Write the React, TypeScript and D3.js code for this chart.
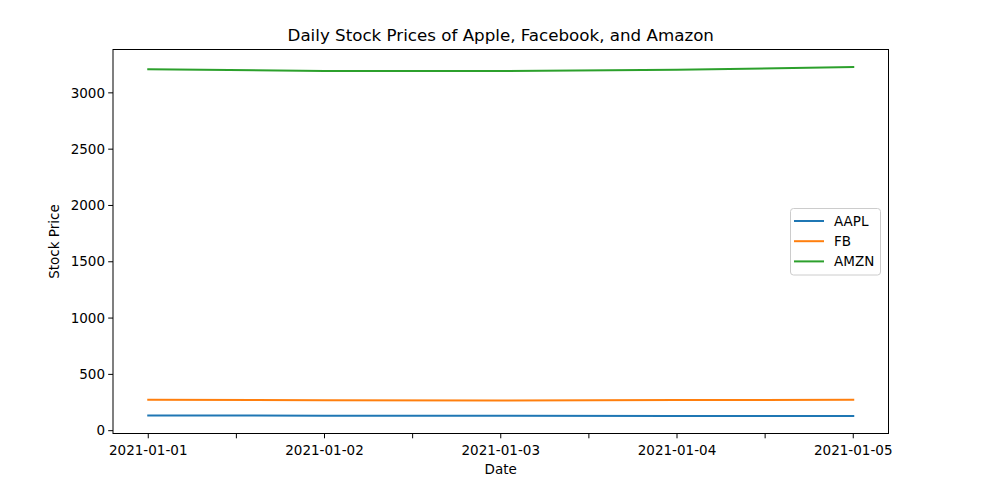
import React from "react";
import * as d3 from "d3";

const dates = ["2021-01-01", "2021-01-02", "2021-01-03", "2021-01-04", "2021-01-05"];
const aapl = [135, 133, 133, 130, 131];
const fb = [275, 270, 269, 272, 275];
const amzn = [3210, 3195, 3193, 3205, 3230];
const yTicks = [0, 500, 1000, 1500, 2000, 2500, 3000];
const seriesNames = ["AAPL", "FB", "AMZN"];
const seriesColors = ["#1f77b4", "#ff7f0e", "#2ca02c"];

const W = 983, H = 482;
const L = 113, R = 888.5, T = 49.5, B = 433.5;
const FONT = "DejaVu Sans, sans-serif";

export default function App() {
  const parse = d3.utcParse("%Y-%m-%d");
  const xs = dates.map((d) => parse(d) as Date);
  const x0 = xs[0].getTime(), x1 = xs[xs.length - 1].getTime();
  const xpad = (x1 - x0) * 0.05;
  const x = d3.scaleUtc().domain([new Date(x0 - xpad), new Date(x1 + xpad)]).range([L, R]);
  const all = [...aapl, ...fb, ...amzn];
  const ymin = d3.min(all)!, ymax = d3.max(all)!;
  const ypad = (ymax - ymin) * 0.05;
  const y = d3.scaleLinear().domain([ymin - ypad, ymax + ypad]).range([B, T]);
  const series = [aapl, fb, amzn];
  const line = d3.line<number>().x((_, i) => x(xs[i])).y((v) => y(v));
  const halfTicks: Date[] = [];
  for (let t = x0; t <= x1; t += 12 * 3600 * 1000) halfTicks.push(new Date(t));
  const tickLen = 4.8;

  return (
    <svg width={W} height={H} style={{ position: "absolute", left: 0, top: 0 }} fontFamily={FONT}>
      <rect x={0} y={0} width={W} height={H} fill="#fff" />
      {series.map((s, i) => (
        <path key={i} d={line(s)!} fill="none" stroke={seriesColors[i]} strokeWidth={2} strokeLinejoin="round" strokeLinecap="square" />
      ))}
      <rect x={L} y={T} width={R - L} height={B - T} fill="none" stroke="#000" strokeWidth={1} />
      {yTicks.map((t) => (
        <g key={t}>
          <line x1={L - tickLen} x2={L} y1={y(t)} y2={y(t)} stroke="#000" strokeWidth={1} />
          <text x={L - 8} y={y(t)} dy="0.35em" textAnchor="end" fontSize={13.5} fill="#000">{t}</text>
        </g>
      ))}
      {halfTicks.map((t, i) => (
        <line key={i} x1={x(t)} x2={x(t)} y1={B} y2={B + tickLen} stroke="#000" strokeWidth={1} />
      ))}
      {xs.map((d, i) => (
        <text key={i} x={x(d)} y={B + 21} textAnchor="middle" fontSize={13.5} fill="#000">{dates[i]}</text>
      ))}
      <text x={(L + R) / 2} y={474} textAnchor="middle" fontSize={13.5} fill="#000">Date</text>
      <text transform={`translate(59,${(T + B) / 2}) rotate(-90)`} textAnchor="middle" fontSize={13.5} fill="#000">Stock Price</text>
      <text x={(L + R) / 2} y={41} textAnchor="middle" fontSize={16.7} fill="#000">Daily Stock Prices of Apple, Facebook, and Amazon</text>
      <rect x={790.5} y={208.5} width={90} height={66.5} rx={3} fill="#fff" fillOpacity={0.8} stroke="#cccccc" strokeWidth={1} />
      {seriesNames.map((n, i) => {
        const ly = 221 + i * 20.2;
        return (
          <g key={n}>
            <line x1={794} x2={824} y1={ly} y2={ly} stroke={seriesColors[i]} strokeWidth={2} />
            <text x={834} y={ly} dy="0.35em" fontSize={13.5} fill="#000">{n}</text>
          </g>
        );
      })}
    </svg>
  );
}
